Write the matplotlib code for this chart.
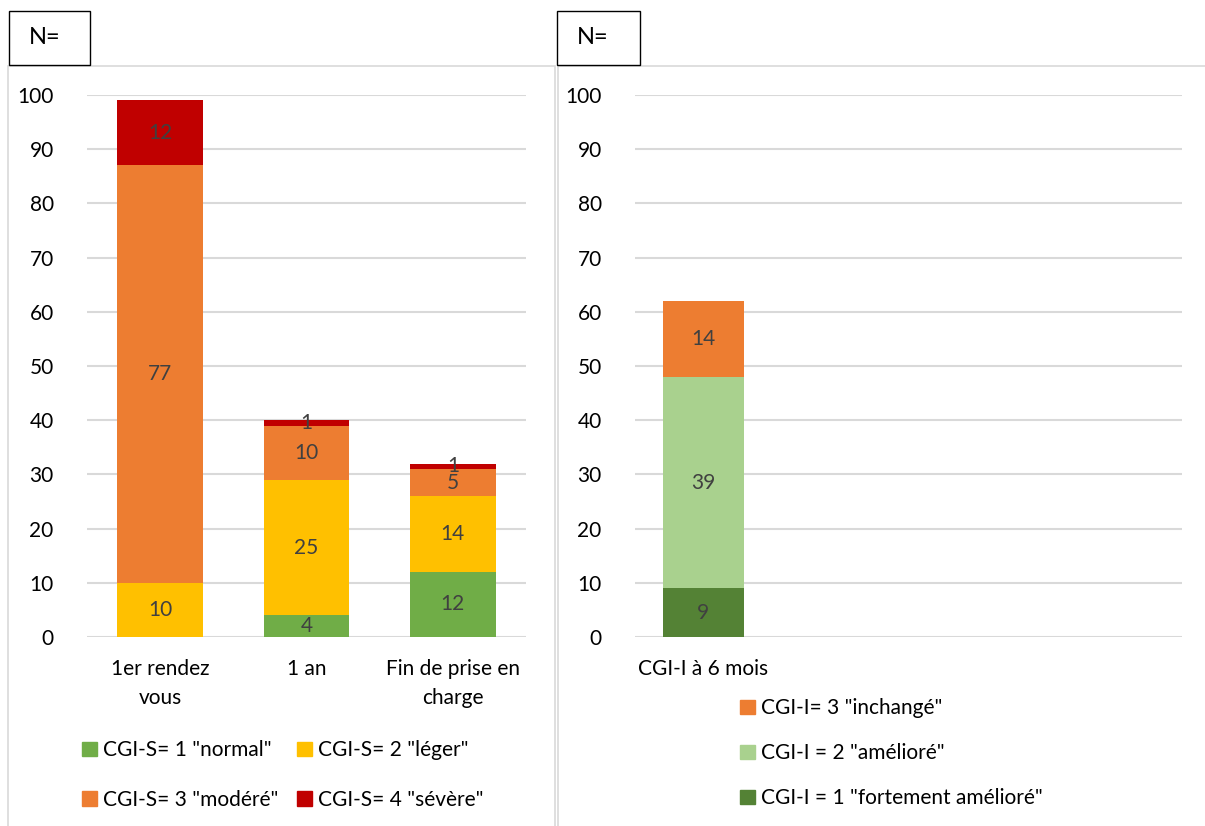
import numpy as np
import matplotlib
matplotlib.use('Agg')
import matplotlib.pyplot as plt
from matplotlib.patches import Rectangle, Patch

plt.rcParams['font.family'] = ['Lato', 'DejaVu Sans']

# left chart: CGI-S over time
cats_s = ['1er rendez\nvous', '1 an', 'Fin de prise en\ncharge']
s_labels = ['CGI-S= 1 "normal"', 'CGI-S= 2 "léger"', 'CGI-S= 3 "modéré"', 'CGI-S= 4 "sévère"']
s_normal = [0, 4, 12]
s_leger = [10, 25, 14]
s_modere = [77, 10, 5]
s_severe = [12, 1, 1]
s_colors = ['#70AD47', '#FFC000', '#ED7D31', '#C00000']

# right chart: CGI-I at 6 months (4 category slots, only the first filled)
cats_i = ['CGI-I à 6 mois', '', '', '']
i_labels = ['CGI-I = 1 "fortement amélioré"', 'CGI-I = 2 "amélioré"', 'CGI-I= 3 "inchangé"']
i_fort = [9, 0, 0, 0]
i_ameliore = [39, 0, 0, 0]
i_inchange = [14, 0, 0, 0]
i_colors = ['#548235', '#A9D18E', '#ED7D31']

yticks = list(range(0, 101, 10))

W, H = 1205, 826
fig = plt.figure(figsize=(W / 100, H / 100), dpi=100)


def px(x0, y0, x1, y1):
    return [x0 / W, 1 - y1 / H, (x1 - x0) / W, (y1 - y0) / H]


# panel frames and N= boxes
fig.patches.append(Rectangle((8 / W, -0.01), (555 - 8) / W, 1 - 66 / H + 0.01,
                             transform=fig.transFigure, fill=False, ec='#D9D9D9', lw=1.2))
fig.patches.append(Rectangle((558 / W, -0.01), (1210 - 558) / W, 1 - 66 / H + 0.01,
                             transform=fig.transFigure, fill=False, ec='#D9D9D9', lw=1.2))
for bx0, bx1 in [(9, 90), (557, 640)]:
    fig.patches.append(Rectangle((bx0 / W, 1 - 65 / H), (bx1 - bx0) / W, 54 / H,
                                 transform=fig.transFigure, fill=False, ec='#000000', lw=1.0))
    fig.text((bx0 + 20) / W, 1 - 38 / H, 'N=', fontsize=17, va='center', ha='left')


def stack(ax, cats, series, colors, labels, width):
    x = np.arange(len(cats))
    bottom = np.zeros(len(cats))
    for vals, c, lab in zip(series, colors, labels):
        vals = np.array(vals, dtype=float)
        ax.bar(x, vals, width, bottom=bottom, color=c, label=lab, zorder=3)
        for xi, v, b in zip(x, vals, bottom):
            if v > 0:
                ax.text(xi, b + v / 2, str(int(v)), ha='center', va='center',
                        fontsize=15, color='#404040', zorder=4)
        bottom += vals
    ax.set_xlim(-0.5, len(cats) - 0.5)
    ax.set_ylim(0, 100)
    ax.set_yticks(yticks)
    ax.set_xticks(x)
    ax.set_xticklabels(cats, fontsize=15, linespacing=1.55)
    ax.yaxis.grid(True, color='#D9D9D9', lw=1.5, zorder=0)
    ax.tick_params(axis='y', length=0, pad=24, labelsize=15)
    ax.tick_params(axis='x', length=0, pad=16)
    for s in ax.spines.values():
        s.set_visible(False)


ax1 = fig.add_axes(px(87, 95, 526, 637))
stack(ax1, cats_s, [s_normal, s_leger, s_modere, s_severe], s_colors, s_labels, 0.587)

ax2 = fig.add_axes(px(635, 95, 1182, 637))
stack(ax2, cats_i, [i_fort, i_ameliore, i_inchange], i_colors, i_labels, 0.587)

# legends
h1 = [Patch(color=c) for c in s_colors]
order = [0, 2, 1, 3]
fig.legend([h1[i] for i in order], [s_labels[i] for i in order], ncol=2,
           loc='upper left', bbox_to_anchor=(72 / W, 1 - 730 / H), frameon=False,
           fontsize=15, handlelength=0.7, handleheight=0.7, handletextpad=0.3,
           columnspacing=0.9, labelspacing=1.4, borderpad=0)

h2 = [Patch(color=c) for c in i_colors]
fig.legend(h2[::-1], i_labels[::-1], ncol=1,
           loc='upper left', bbox_to_anchor=(730 / W, 1 - 688 / H), frameon=False,
           fontsize=15, handlelength=0.7, handleheight=0.7, handletextpad=0.3,
           labelspacing=1.2, borderpad=0)

fig.savefig('out.png', dpi=100)
